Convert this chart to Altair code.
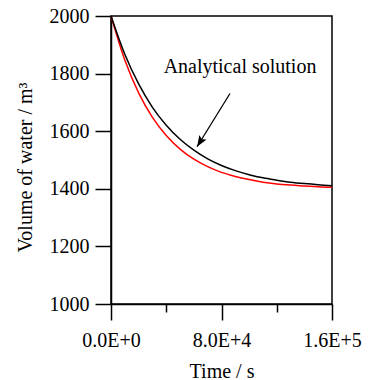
import altair as alt
import pandas as pd

# ---- data ----
time_s = [0, 10000, 20000, 30000, 40000, 50000, 60000, 70000, 80000,
          90000, 100000, 110000, 120000, 130000, 140000, 150000, 160000]
analytical = [2000, 1867, 1764, 1683, 1621, 1572, 1534, 1504, 1481,
              1463, 1449, 1438, 1430, 1423, 1418, 1414, 1411]
numerical = [2000, 1847, 1733, 1648, 1585, 1538, 1503, 1477, 1457,
             1443, 1432, 1423, 1417, 1413, 1410, 1407, 1405]
series_names = ["Numerical", "Analytical"]
series_colors = ["#ff0000", "#000000"]

y_ticks = [1000, 1200, 1400, 1600, 1800, 2000]
x_ticks = [0, 20000, 40000, 60000, 80000, 100000, 120000, 140000, 160000]
x_major = [0, 80000, 160000]
x_major_labels = ["0.0E+0", "8.0E+4", "1.6E+5"]

label_text = ["Analytical solution"]
label_t = [93400]
label_v = [1803]
arrow_t = [86150]
arrow_v = [1731]
arrow_tip_t = [62300]
arrow_tip_v = [1546]

FONT = "Liberation Serif"

df = pd.DataFrame({
    "t": time_s + time_s,
    "v": numerical + analytical,
    "series": [series_names[0]] * len(time_s) + [series_names[1]] * len(time_s),
})

label_expr = " : ".join(
    f"datum.value == {v} ? '{s}'" for v, s in zip(x_major, x_major_labels)
) + " : ''"

x_scale = alt.Scale(domain=[0, 160000], nice=False, zero=False)
y_scale = alt.Scale(domain=[1000, 2000], nice=False, zero=False)

x_axis = alt.Axis(
    title="Time / s",
    values=x_ticks,
    labelExpr=label_expr,
    tickSize={"condition": {"test": "datum.value % 80000 === 0", "value": 16}, "value": 8},
    labelPadding=10,
    labelFontSize=20,
    labelFont=FONT,
    titleFontSize=20,
    titleFont=FONT,
    titleFontWeight="normal",
    titleY=57,
    labelFlush=False,
    labelOverlap=False,
    grid=False,
    domainColor="black",
    tickColor="black",
    labelColor="black",
    titleColor="black",
    domainWidth=1.5,
    tickWidth=1.5,
)

y_axis = alt.Axis(
    title="Volume of water / m³",
    values=y_ticks,
    format="d",
    tickSize=16,
    labelPadding=6,
    labelFontSize=20,
    labelFont=FONT,
    titleFontSize=20,
    titleFont=FONT,
    titleFontWeight="normal",
    titleX=-76,
    titleY=151,
    grid=False,
    labelFlush=False,
    domainColor="black",
    tickColor="black",
    labelColor="black",
    titleColor="black",
    domainWidth=1.5,
    tickWidth=1.5,
)

lines = alt.Chart(df).mark_line(strokeWidth=1.5, interpolate="monotone").encode(
    x=alt.X("t:Q", scale=x_scale, axis=x_axis),
    y=alt.Y("v:Q", scale=y_scale, axis=y_axis),
    color=alt.Color("series:N", scale=alt.Scale(domain=series_names, range=series_colors), legend=None),
    detail="series:N",
)

ann_df = pd.DataFrame({
    "text": label_text, "lt": label_t, "lv": label_v,
    "at": arrow_t, "av": arrow_v, "tt": arrow_tip_t, "tv": arrow_tip_v,
})

label = alt.Chart(ann_df).mark_text(
    font=FONT, fontSize=20, align="center", baseline="alphabetic", color="black"
).encode(
    x=alt.X("lt:Q", scale=x_scale),
    y=alt.Y("lv:Q", scale=y_scale),
    text="text:N",
)

arrow_line = alt.Chart(ann_df).mark_rule(color="black", strokeWidth=1.3).encode(
    x=alt.X("at:Q", scale=x_scale),
    y=alt.Y("av:Q", scale=y_scale),
    x2="tt:Q",
    y2="tv:Q",
)

arrow_head = alt.Chart(ann_df).mark_point(
    shape="M0,0 L-0.38,1 L0,0.8 L0.38,1 Z",
    filled=True, color="black", opacity=1, size=500, angle=212, strokeWidth=0,
).encode(
    x=alt.X("tt:Q", scale=x_scale),
    y=alt.Y("tv:Q", scale=y_scale),
)

chart = alt.layer(lines, arrow_line, arrow_head, label).properties(
    width=221,
    height=288,
    autosize=alt.AutoSizeParams(type="none"),
    padding={"left": 111, "top": 16, "right": 48, "bottom": 76},
    background="white",
).configure_view(
    stroke="black", strokeWidth=1.5
)

chart.save("out.html", embed_options={"renderer": "svg", "actions": False})
